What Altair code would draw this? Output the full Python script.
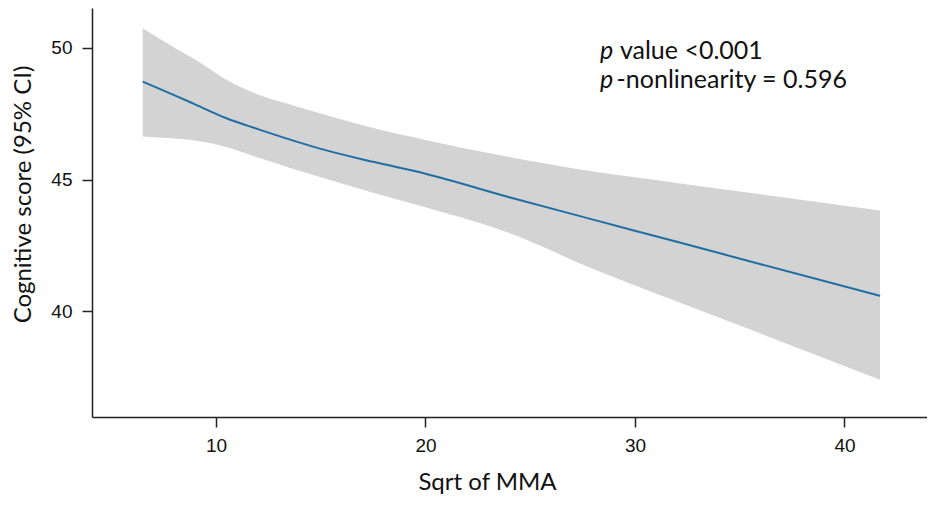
import altair as alt
import pandas as pd

# Data
x_vals = [6.5, 8, 9, 10.5, 12, 13.5, 15, 17.5, 20, 24, 28, 32, 36, 41.7]
fit = [48.71, 48.20, 47.85, 47.32, 46.91, 46.52, 46.16, 45.67, 45.22, 44.33, 43.48, 42.64, 41.79, 40.59]
upper = [50.73, 50.00, 49.55, 48.78, 48.22, 47.85, 47.50, 46.95, 46.50, 45.85, 45.30, 44.87, 44.44, 43.83]
lower = [46.63, 46.55, 46.48, 46.23, 45.83, 45.45, 45.09, 44.50, 43.95, 42.97, 41.61, 40.38, 39.16, 37.41]

x_ticks = [10, 20, 30, 40]
y_ticks = [40, 45, 50]

df = pd.DataFrame({"x": x_vals, "fit": fit, "upper": upper, "lower": lower})

xs = alt.Scale(domain=[4.08, 43.94], nice=False, zero=False)
ys = alt.Scale(domain=[36.0, 51.5], nice=False, zero=False)

axis_common = dict(
    grid=False,
    domainColor="#222222",
    domainWidth=1.5,
    tickColor="#222222",
    tickWidth=1.5,
    tickSize=10,
    labelFont="Liberation Sans",
    labelFontSize=19,
    labelColor="#111111",
    titleFont="Lato",
    titleFontWeight="normal",
    titleFontSize=24,
    titleColor="#111111",
)

x_axis = alt.Axis(
    values=x_ticks, labelPadding=9, title="Sqrt of MMA", titlePadding=15,
    titleX=395, **axis_common
)
y_axis = alt.Axis(
    values=y_ticks, labelPadding=10, title="Cognitive score (95% CI)", titlePadding=15,
    titleY=186, **axis_common
)

band = alt.Chart(df).mark_area(color="#d3d3d3", opacity=1, interpolate="monotone").encode(
    x=alt.X("x:Q", scale=xs, axis=x_axis),
    y=alt.Y("lower:Q", scale=ys, axis=y_axis),
    y2="upper:Q",
)

line = alt.Chart(df).mark_line(color="#1f6fa5", strokeWidth=2, interpolate="monotone").encode(
    x=alt.X("x:Q", scale=xs),
    y=alt.Y("fit:Q", scale=ys),
)

# annotation
ann_p = pd.DataFrame({"x": [28.33, 28.33], "y": [49.55, 48.48], "t": ["p", "p"]})
ann_rest = pd.DataFrame({"x": [29.28, 29.12], "y": [49.55, 48.48],
                         "t": ["value <0.001", "-nonlinearity = 0.596"]})

t1 = alt.Chart(ann_p).mark_text(
    align="left", baseline="alphabetic", font="Lato", fontSize=25,
    fontStyle="italic", color="#111111"
).encode(x=alt.X("x:Q", scale=xs), y=alt.Y("y:Q", scale=ys), text="t:N")

t2 = alt.Chart(ann_rest).mark_text(
    align="left", baseline="alphabetic", font="Lato", fontSize=25, color="#111111"
).encode(x=alt.X("x:Q", scale=xs), y=alt.Y("y:Q", scale=ys), text="t:N")

chart = alt.layer(band, line, t1, t2).properties(
    width=835,
    height=409,
    autosize=alt.AutoSizeParams(type="none"),
    padding={"left": 84, "top": 0, "right": 0, "bottom": 80},
).configure_view(stroke=None)

chart.save("out.html", embed_options={"renderer": "svg", "actions": False})
